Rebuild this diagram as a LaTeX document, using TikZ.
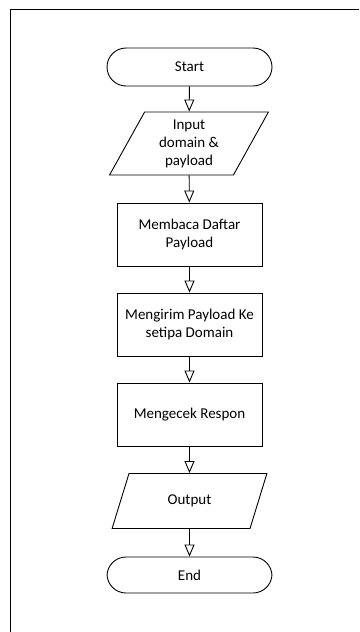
\documentclass[tikz,border=0pt]{standalone}
\usepackage{fontspec}
\setmainfont{Carlito}
\usetikzlibrary{shapes.geometric,arrows.meta}
\begin{document}
\begin{tikzpicture}[x=1pt,y=-1pt,
  every node/.style={font=\fontsize{15}{18}\selectfont, align=center, inner sep=0pt},
  term/.style={draw, line width=0.9pt, rectangle, rounded corners=19pt, minimum width=165pt, minimum height=38pt},
  procbox/.style={draw, line width=0.9pt, rectangle, minimum width=145pt, minimum height=63pt},
  iobox/.style={draw, line width=0.9pt, trapezium, trapezium left angle=#1, trapezium right angle=180-#1, trapezium stretches=true},
  flow/.style={line width=0.9pt, -{Triangle[open, length=12pt, width=10pt, fill=white]}}
]
\useasboundingbox (0,0) rectangle (359,632);
% frame
\draw[line width=1pt] (10.5,632) -- (10.5,9.5) -- (359,9.5);

\node[term] (start) at (189.5,67) {Start};
\node[iobox=63.8, minimum width=159pt, minimum height=63pt] (input) at (189,143.5) {Input\\domain \&\\payload};
\node[procbox] (baca) at (189.5,234.5) {Membaca Daftar\\Payload};
\node[procbox] (kirim) at (189.5,324.5) {Mengirim Payload Ke\\setipa Domain};
\node[procbox] (cek) at (189.5,414.5) {Mengecek Respon};
\node[iobox=63.4, minimum width=155pt, minimum height=55pt] (output) at (189.5,501) {Output};
\node[term, minimum height=36pt] (end) at (189.5,575) {End};

\draw[flow] (start) -- (input);
\draw[flow] (input) -- (baca);
\draw[flow] (baca) -- (kirim);
\draw[flow] (kirim) -- (cek);
\draw[flow] (cek) -- (output);
\draw[flow] (output) -- (end);
\end{tikzpicture}
\end{document}
